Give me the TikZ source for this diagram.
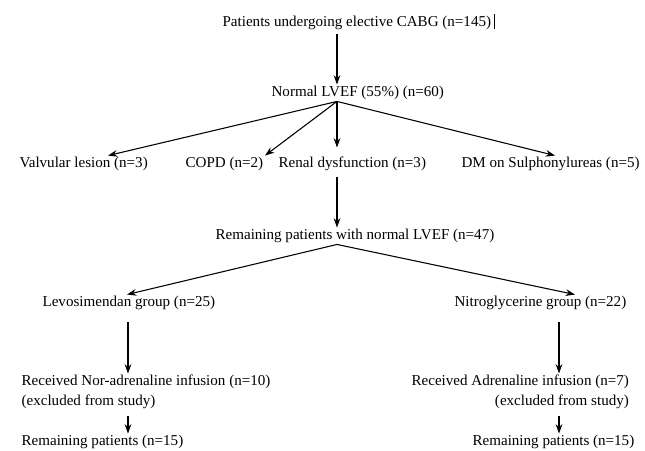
\documentclass[tikz,border=0pt]{standalone}
\usepackage{fontspec}
\setmainfont{Liberation Serif}
\usetikzlibrary{arrows.meta}

\begin{document}
\begin{tikzpicture}[x=0.75pt,y=-0.75pt,
    lbl/.style={inner sep=1pt,anchor=west,font=\fontsize{11.3}{15}\selectfont},
    arr/.style={-{Stealth[length=7pt,width=5pt]},line width=0.8pt}]
      \useasboundingbox (0,0) rectangle (645,450);

      % columns and arrow tips
      \coordinate (spine) at (337,0);
      \coordinate (lcol) at (128,0);
      \coordinate (rcol) at (559,0);

      % text
      \node[lbl] (top) at (221,22) {Patients undergoing elective CABG (n=145)\,\rule[-2pt]{1.2pt}{11pt}};
      \node[lbl] (lvef) at (270,93) {Normal LVEF (55\%) (n=60)};
      \node[lbl] (valv) at (18,164) {Valvular lesion (n=3)};
      \node[lbl] (copd) at (184,164) {COPD (n=2)};
      \node[lbl] (renal) at (277,164) {Renal dysfunction (n=3)};
      \node[lbl] (dm) at (460,164) {DM on Sulphonylureas (n=5)};
      \node[lbl] (rem) at (214,236) {Remaining patients with normal LVEF (n=47)};
      \node[lbl] (levo) at (41,303) {Levosimendan group (n=25)};
      \node[lbl] (ntg) at (453,303) {Nitroglycerine group (n=22)};
      \node[lbl,align=left] (norad) at (20,392) {Received Nor-adrenaline infusion (n=10)\\(excluded from study)};
      \node[lbl,align=right] (adr) at (410,392) {Received Adrenaline infusion (n=7)\\(excluded from study)};
      \node[lbl] (remL) at (20,442) {Remaining patients (n=15)};
      \node[lbl] (remR) at (471,442) {Remaining patients (n=15)};

      \coordinate (tvalv) at (108,0);
      \coordinate (tcopd) at (265,0);
      \coordinate (tdm) at (555,0);
      \coordinate (tlevo) at (127,0);
      \coordinate (tntg) at (575,0);

      % arrows
      \draw[arr] ([yshift=-2pt]top.south -| spine) -- (lvef.north -| spine);
      \draw[arr] (lvef.south -| spine) -- (valv.north -| tvalv);
      \draw[arr] (lvef.south -| spine) -- (copd.north -| tcopd);
      \draw[arr] (lvef.south -| spine) -- ([yshift=6pt]renal.north -| spine);
      \draw[arr] (lvef.south -| spine) -- (dm.north -| tdm);
      \draw[arr] ([yshift=-3pt]renal.south -| spine) -- (rem.north -| spine);
      \draw[arr] (rem.south -| spine) -- (levo.north -| tlevo);
      \draw[arr] (rem.south -| spine) -- (ntg.north -| tntg);
      \draw[arr] ([yshift=-8pt]levo.south -| lcol) -- (norad.north -| lcol);
      \draw[arr] ([yshift=-8pt]ntg.south -| rcol) -- (adr.north -| rcol);
      \draw[arr] ([yshift=-4pt]norad.south -| lcol) -- (remL.north -| lcol);
      \draw[arr] ([yshift=-4pt]adr.south -| rcol) -- (remR.north -| rcol);
\end{tikzpicture}
\end{document}
